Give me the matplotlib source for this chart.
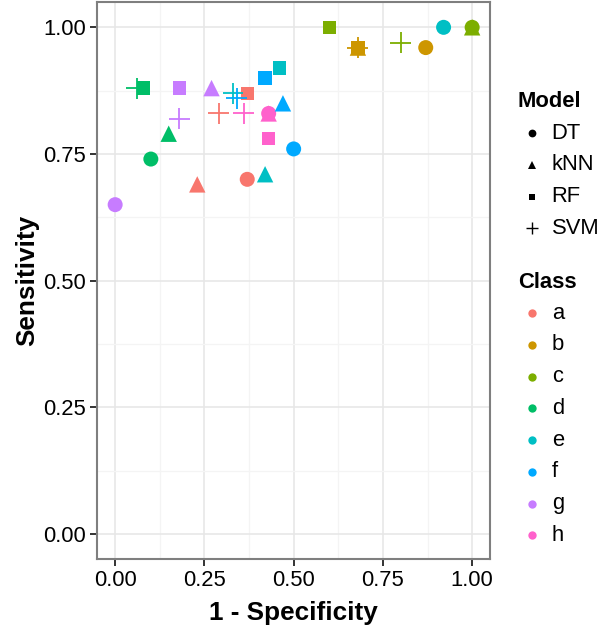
import matplotlib
matplotlib.use("Agg")
import matplotlib.pyplot as plt
from matplotlib.lines import Line2D
from matplotlib.ticker import MultipleLocator, FormatStrFormatter

plt.rcParams['font.family'] = ['Liberation Sans', 'DejaVu Sans']

classes = ['a', 'b', 'c', 'd', 'e', 'f', 'g', 'h']
models = ['DT', 'kNN', 'RF', 'SVM']
class_colors = ['#F8766D', '#CD9600', '#7CAE00', '#00BE67',
                '#00BFC4', '#00A9FF', '#C77CFF', '#FF61CC']

# 1 - specificity / sensitivity, one value per class (a..h)
dt_x = [0.37, 0.87, 1.00, 0.10, 0.92, 0.50, 0.00, 0.43]
dt_y = [0.70, 0.96, 1.00, 0.74, 1.00, 0.76, 0.65, 0.83]
knn_x = [0.23, 0.68, 1.00, 0.15, 0.42, 0.47, 0.27, 0.43]
knn_y = [0.69, 0.96, 1.00, 0.79, 0.71, 0.85, 0.88, 0.83]
rf_x = [0.37, 0.68, 0.60, 0.08, 0.46, 0.42, 0.18, 0.43]
rf_y = [0.87, 0.96, 1.00, 0.88, 0.92, 0.90, 0.88, 0.78]
svm_x = [0.29, 0.68, 0.80, 0.06, 0.33, 0.34, 0.18, 0.36]
svm_y = [0.83, 0.96, 0.97, 0.88, 0.87, 0.86, 0.82, 0.83]

model_data = {'DT': (dt_x, dt_y), 'kNN': (knn_x, knn_y),
              'RF': (rf_x, rf_y), 'SVM': (svm_x, svm_y)}
# marker, size (pt), edge width
model_style = {'DT': ('o', 10.8, 0), 'kNN': ('^', 11.8, 0),
               'RF': ('s', 9.6, 0), 'SVM': ('+', 15, 1.3)}

W, H = 600, 628
fig = plt.figure(figsize=(W / 100, H / 100), dpi=100)
ax = fig.add_axes([97.3 / W, 1 - 559.3 / H, (490 - 97.3) / W, (559.3 - 2) / H])

for m in models:
    xs, ys = model_data[m]
    mk, ms, mew = model_style[m]
    ax.scatter(xs, ys, c=class_colors, marker=mk, s=ms ** 2, linewidths=mew, zorder=3)

ax.set_xlim(-0.05, 1.05)
ax.set_ylim(-0.05, 1.05)
ax.xaxis.set_major_locator(MultipleLocator(0.25))
ax.yaxis.set_major_locator(MultipleLocator(0.25))
ax.xaxis.set_minor_locator(MultipleLocator(0.125))
ax.yaxis.set_minor_locator(MultipleLocator(0.125))
ax.xaxis.set_major_formatter(FormatStrFormatter('%.2f'))
ax.yaxis.set_major_formatter(FormatStrFormatter('%.2f'))

ax.grid(which='major', color='#E6E6E6', lw=1.1, zorder=0)
ax.grid(which='minor', color='#F4F4F4', lw=0.9, zorder=0)
ax.set_axisbelow(True)
ax.tick_params(which='major', direction='out', length=5, width=1.4, color='#333333',
               labelsize=15.8, labelcolor='black', pad=3)
ax.tick_params(which='minor', length=0)
for s in ax.spines.values():
    s.set_color('#7F7F7F')
    s.set_linewidth(1.5)

ax.set_xlabel('1 - Specificity', fontsize=18.8, fontweight='bold', labelpad=7)
ax.set_ylabel('Sensitivity', fontsize=18.8, fontweight='bold', labelpad=3)

# legends, placed by hand in figure pixels
def fx(px):
    return px / W

def fy(py):
    return 1 - py / H

fig.text(fx(517.7), fy(101.7), 'Model', fontsize=15.8, fontweight='bold', va='center')
leg_style = {'DT': ('o', 5.6), 'kNN': ('^', 6.0), 'RF': ('s', 5.0), 'SVM': ('+', 8.5)}
for i, m in enumerate(models):
    y = 133.3 + i * 31.7
    mk, ms = leg_style[m]
    fig.add_artist(Line2D([fx(531.7)], [fy(y)], transform=fig.transFigure, marker=mk,
                          markersize=ms, color='black', mew=1.0 if mk == '+' else 0, ls='none'))
    fig.text(fx(551.7), fy(y), m, fontsize=15.8, va='center')

fig.text(fx(517.7), fy(282), 'Class', fontsize=15.8, fontweight='bold', va='center')
for i, (c, col) in enumerate(zip(classes, class_colors)):
    y = 313.3 + i * 31.7
    fig.add_artist(Line2D([fx(532.3)], [fy(y)], transform=fig.transFigure, marker='o',
                          markersize=6, color=col, mew=0, ls='none'))
    fig.text(fx(551.7), fy(y), c, fontsize=15.8, va='center')

fig.savefig('out.png', dpi=100)
